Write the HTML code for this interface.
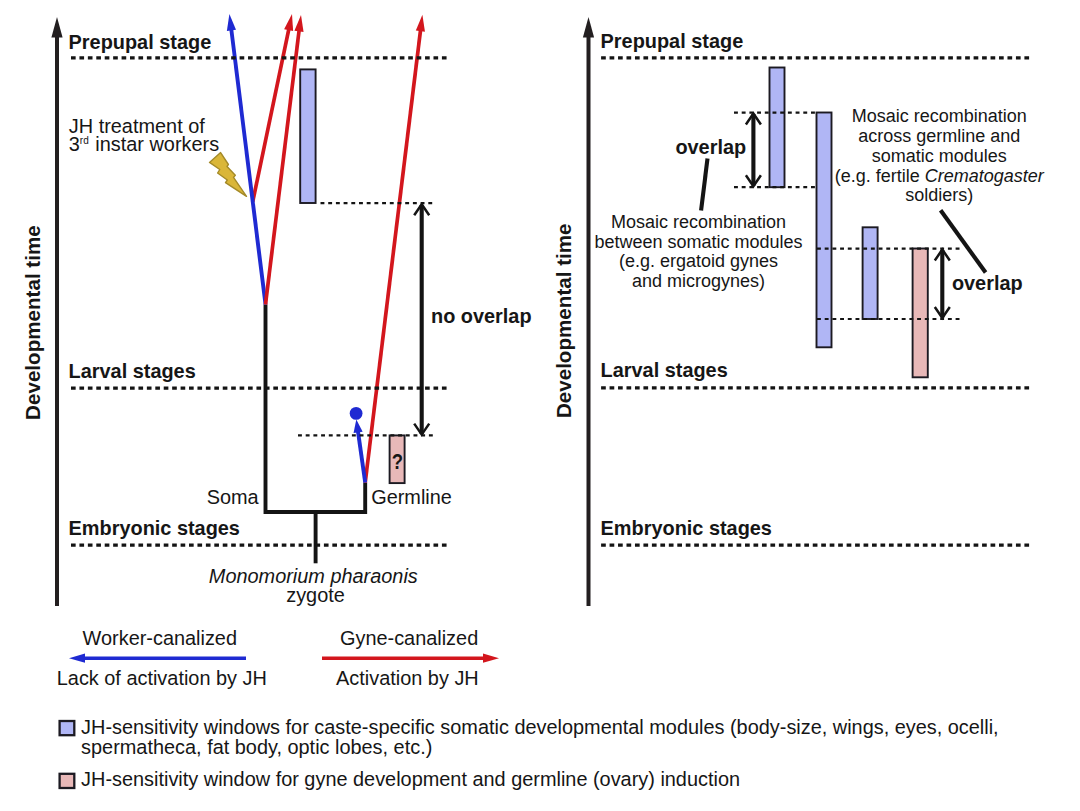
<!DOCTYPE html>
<html><head><meta charset="utf-8"><style>
html,body{margin:0;padding:0;background:#fff;width:1080px;height:811px;overflow:hidden}
svg{display:block}
text{font-family:"Liberation Sans",sans-serif;fill:#161616}
</style></head><body>
<svg width="1080" height="811" viewBox="0 0 1080 811">
<rect width="1080" height="811" fill="#fff"/>
<line x1="57.0" y1="36" x2="57.0" y2="606" stroke="#231f20" stroke-width="4"/>
<polygon points="57.0,17 51.4,37.5 62.6,37.5" fill="#231f20"/>
<line x1="588.5" y1="36" x2="588.5" y2="606" stroke="#231f20" stroke-width="4"/>
<polygon points="588.5,17 582.9,37.5 594.1,37.5" fill="#231f20"/>
<text x="68.6" y="48.6" font-size="19.9" font-weight="bold" font-style="normal" text-anchor="start" >Prepupal stage</text>
<text x="68.6" y="377.8" font-size="19.9" font-weight="bold" font-style="normal" text-anchor="start" >Larval stages</text>
<text x="68.6" y="535.4" font-size="19.9" font-weight="bold" font-style="normal" text-anchor="start" >Embryonic stages</text>
<text x="600.6" y="47.9" font-size="19.9" font-weight="bold" font-style="normal" text-anchor="start" >Prepupal stage</text>
<text x="600.6" y="376.7" font-size="19.9" font-weight="bold" font-style="normal" text-anchor="start" >Larval stages</text>
<text x="600.6" y="535.1" font-size="19.9" font-weight="bold" font-style="normal" text-anchor="start" >Embryonic stages</text>
<text x="0" y="0" font-size="20.6" font-weight="bold" font-style="normal" text-anchor="middle" transform="translate(40.2,322.6) rotate(-90)">Developmental time</text>
<text x="0" y="0" font-size="20.6" font-weight="bold" font-style="normal" text-anchor="middle" transform="translate(571.2,320.8) rotate(-90)">Developmental time</text>
<rect x="300.2" y="69.4" width="15.40" height="133.60" fill="#b0b6f5" stroke="#1c1a22" stroke-width="1.9"/>
<rect x="389.6" y="435.4" width="15.00" height="47.70" fill="#e8b8b8" stroke="#1c1a22" stroke-width="1.9"/>
<text x="0" y="0" font-size="21" font-weight="bold" font-style="normal" text-anchor="middle" transform="translate(397.4,469.4) scale(0.88,1.08)">?</text>
<polygon points="220.6,152.6 228.4,164.5 227.0,166.4 235.3,175.2 233.5,177.4 246.5,196.4 225.5,182.6 227.3,180.0 217.6,173.0 219.8,169.5 209.5,162.4" fill="#dab638" stroke="#a48a28" stroke-width="1.4" stroke-linejoin="round"/>
<polyline points="265.5,304.4 265.5,512 365.2,512 365.2,482.6" fill="none" stroke="#141414" stroke-width="3.9"/>
<line x1="315.6" y1="512" x2="315.6" y2="563.3" stroke="#141414" stroke-width="3.9"/>
<line x1="252.70" y1="201.90" x2="288.83" y2="29.17" stroke="#d3161d" stroke-width="3.7"/>
<polygon points="292.00,14.00 293.12,31.09 284.12,29.21" fill="#d3161d"/>
<line x1="265.50" y1="304.40" x2="231.31" y2="29.38" stroke="#1f2ad2" stroke-width="3.9"/>
<polygon points="229.40,14.00 236.00,29.81 226.87,30.94" fill="#1f2ad2"/>
<line x1="265.50" y1="304.40" x2="299.11" y2="30.38" stroke="#d3161d" stroke-width="3.7"/>
<polygon points="301.00,15.00 303.56,31.94 294.43,30.82" fill="#d3161d"/>
<line x1="365.20" y1="482.60" x2="420.52" y2="30.19" stroke="#d3161d" stroke-width="3.7"/>
<polygon points="422.40,14.80 424.96,31.74 415.83,30.62" fill="#d3161d"/>
<line x1="365.20" y1="482.60" x2="357.98" y2="431.38" stroke="#1f2ad2" stroke-width="3.9"/>
<polygon points="356.30,419.50 362.67,431.73 353.56,433.02" fill="#1f2ad2"/>
<circle cx="356.1" cy="413.4" r="6.4" fill="#1f2ad2"/>
<line x1="421.7" y1="205" x2="421.7" y2="434" stroke="#141414" stroke-width="4.1"/>
<polyline points="414.20,215.20 421.70,204.20 429.20,215.20" fill="none" stroke="#141414" stroke-width="2.5" stroke-linejoin="miter" stroke-miterlimit="10"/>
<polyline points="414.20,423.60 421.70,434.60 429.20,423.60" fill="none" stroke="#141414" stroke-width="2.5" stroke-linejoin="miter" stroke-miterlimit="10"/>
<text x="431" y="323.2" font-size="19.9" font-weight="bold" font-style="normal" text-anchor="start" >no overlap</text>
<text x="68.8" y="133.2" font-size="19.9" font-weight="normal" font-style="normal" text-anchor="start" >JH treatment of</text>
<text x="68.8" y="150.6" font-size="19.9">3<tspan font-size="10" dy="-6.9">rd</tspan><tspan dy="6.9" dx="1"> instar workers</tspan></text>
<text x="258.6" y="504" font-size="19.9" font-weight="normal" font-style="normal" text-anchor="end" >Soma</text>
<text x="371.2" y="503.8" font-size="19.9" font-weight="normal" font-style="normal" text-anchor="start" >Germline</text>
<text x="313.3" y="583.3" font-size="19.9" font-weight="normal" font-style="italic" text-anchor="middle" >Monomorium pharaonis</text>
<text x="315.5" y="601.8" font-size="19.9" font-weight="normal" font-style="normal" text-anchor="middle" >zygote</text>
<line x1="246.00" y1="658.20" x2="84.00" y2="658.20" stroke="#1f2ad2" stroke-width="3.6"/>
<polygon points="69.00,658.20 85.00,653.60 85.00,662.80" fill="#1f2ad2"/>
<line x1="322.00" y1="658.20" x2="484.00" y2="658.20" stroke="#d3161d" stroke-width="3.6"/>
<polygon points="499.00,658.20 483.00,662.80 483.00,653.60" fill="#d3161d"/>
<text x="159.8" y="645.4" font-size="19.9" font-weight="normal" font-style="normal" text-anchor="middle" >Worker-canalized</text>
<text x="161.8" y="684.5" font-size="19.9" font-weight="normal" font-style="normal" text-anchor="middle" >Lack of activation by JH</text>
<text x="409.1" y="645.4" font-size="19.9" font-weight="normal" font-style="normal" text-anchor="middle" >Gyne-canalized</text>
<text x="407.4" y="684.5" font-size="19.9" font-weight="normal" font-style="normal" text-anchor="middle" >Activation by JH</text>
<rect x="59.6" y="721" width="14.70" height="14.20" fill="#b0b6f5" stroke="#1c1a22" stroke-width="2.3"/>
<rect x="59.6" y="773.8" width="14.70" height="14.20" fill="#e8b8b8" stroke="#1c1a22" stroke-width="2.3"/>
<text x="81.1" y="734.3" font-size="19.9" font-weight="normal" font-style="normal" text-anchor="start" >JH-sensitivity windows for caste-specific somatic developmental modules (body-size, wings, eyes, ocelli,</text>
<text x="81.1" y="754" font-size="19.9" font-weight="normal" font-style="normal" text-anchor="start" >spermatheca, fat body, optic lobes, etc.)</text>
<text x="81.1" y="786.4" font-size="19.9" font-weight="normal" font-style="normal" text-anchor="start" >JH-sensitivity window for gyne development and germline (ovary) induction</text>
<rect x="769.5" y="67.5" width="15.00" height="119.70" fill="#b0b6f5" stroke="#1c1a22" stroke-width="1.9"/>
<rect x="816.5" y="112.5" width="15.00" height="234.80" fill="#b0b6f5" stroke="#1c1a22" stroke-width="1.9"/>
<rect x="862.6" y="227.3" width="15.00" height="91.70" fill="#b0b6f5" stroke="#1c1a22" stroke-width="1.9"/>
<rect x="912.6" y="248.5" width="15.20" height="128.80" fill="#e8b8b8" stroke="#1c1a22" stroke-width="1.9"/>
<line x1="753.4" y1="114.0" x2="753.4" y2="185.7" stroke="#141414" stroke-width="4.1"/>
<polyline points="745.90,124.50 753.40,113.50 760.90,124.50" fill="none" stroke="#141414" stroke-width="2.5" stroke-linejoin="miter" stroke-miterlimit="10"/>
<polyline points="745.90,175.20 753.40,186.20 760.90,175.20" fill="none" stroke="#141414" stroke-width="2.5" stroke-linejoin="miter" stroke-miterlimit="10"/>
<line x1="942.3" y1="250.0" x2="942.3" y2="317.5" stroke="#141414" stroke-width="4.1"/>
<polyline points="934.80,260.50 942.30,249.50 949.80,260.50" fill="none" stroke="#141414" stroke-width="2.5" stroke-linejoin="miter" stroke-miterlimit="10"/>
<polyline points="934.80,307.00 942.30,318.00 949.80,307.00" fill="none" stroke="#141414" stroke-width="2.5" stroke-linejoin="miter" stroke-miterlimit="10"/>
<text x="675.4" y="154" font-size="19.9" font-weight="bold" font-style="normal" text-anchor="start" >overlap</text>
<text x="951.9" y="290.2" font-size="19.9" font-weight="bold" font-style="normal" text-anchor="start" >overlap</text>
<line x1="707.5" y1="158.4" x2="701.1" y2="210.6" stroke="#141414" stroke-width="4.1"/>
<line x1="940.6" y1="210.3" x2="985.6" y2="272.5" stroke="#141414" stroke-width="4.1"/>
<text x="698.5" y="227.8" font-size="18.0" font-weight="normal" font-style="normal" text-anchor="middle" >Mosaic recombination</text>
<text x="698.5" y="247.6" font-size="18.0" font-weight="normal" font-style="normal" text-anchor="middle" >between somatic modules</text>
<text x="698.5" y="267.2" font-size="18.0" font-weight="normal" font-style="normal" text-anchor="middle" >(e.g. ergatoid gynes</text>
<text x="698.5" y="287" font-size="18.0" font-weight="normal" font-style="normal" text-anchor="middle" >and microgynes)</text>
<text x="939.2" y="122" font-size="18.0" font-weight="normal" font-style="normal" text-anchor="middle" >Mosaic recombination</text>
<text x="939.2" y="141.8" font-size="18.0" font-weight="normal" font-style="normal" text-anchor="middle" >across germline and</text>
<text x="939.2" y="161.8" font-size="18.0" font-weight="normal" font-style="normal" text-anchor="middle" >somatic modules</text>
<text x="939.2" y="181.6" font-size="18.0" font-weight="normal" font-style="normal" text-anchor="middle" >(e.g. fertile <tspan font-style="italic">Crematogaster</tspan></text>
<text x="939.2" y="201" font-size="18.0" font-weight="normal" font-style="normal" text-anchor="middle" >soldiers)</text>
<line x1="71" y1="57.8" x2="448" y2="57.8" stroke="#141414" stroke-width="3.3" stroke-dasharray="4.65 3.78"/>
<line x1="71" y1="388.2" x2="448" y2="388.2" stroke="#141414" stroke-width="3.3" stroke-dasharray="4.65 3.78"/>
<line x1="71" y1="545.1" x2="448" y2="545.1" stroke="#141414" stroke-width="3.3" stroke-dasharray="4.65 3.78"/>
<line x1="601.1" y1="57.8" x2="1030" y2="57.8" stroke="#141414" stroke-width="3.3" stroke-dasharray="4.7 3.766"/>
<line x1="601.1" y1="387.8" x2="1030" y2="387.8" stroke="#141414" stroke-width="3.3" stroke-dasharray="4.7 3.766"/>
<line x1="601.1" y1="545.1" x2="1030" y2="545.1" stroke="#141414" stroke-width="3.3" stroke-dasharray="4.7 3.766"/>
<line x1="320.5" y1="203.2" x2="434" y2="203.2" stroke="#141414" stroke-width="2.2" stroke-dasharray="3.9 3.8"/>
<line x1="298" y1="435.4" x2="434" y2="435.4" stroke="#141414" stroke-width="2.2" stroke-dasharray="3.9 3.8"/>
<line x1="734" y1="112.6" x2="816" y2="112.6" stroke="#141414" stroke-width="2.2" stroke-dasharray="3.9 3.8"/>
<line x1="734" y1="187.2" x2="816" y2="187.2" stroke="#141414" stroke-width="2.2" stroke-dasharray="3.9 3.8"/>
<line x1="817" y1="248.6" x2="961" y2="248.6" stroke="#141414" stroke-width="2.2" stroke-dasharray="3.9 3.8"/>
<line x1="817" y1="319" x2="961" y2="319" stroke="#141414" stroke-width="2.2" stroke-dasharray="3.9 3.8"/>
</svg>
</body></html>
